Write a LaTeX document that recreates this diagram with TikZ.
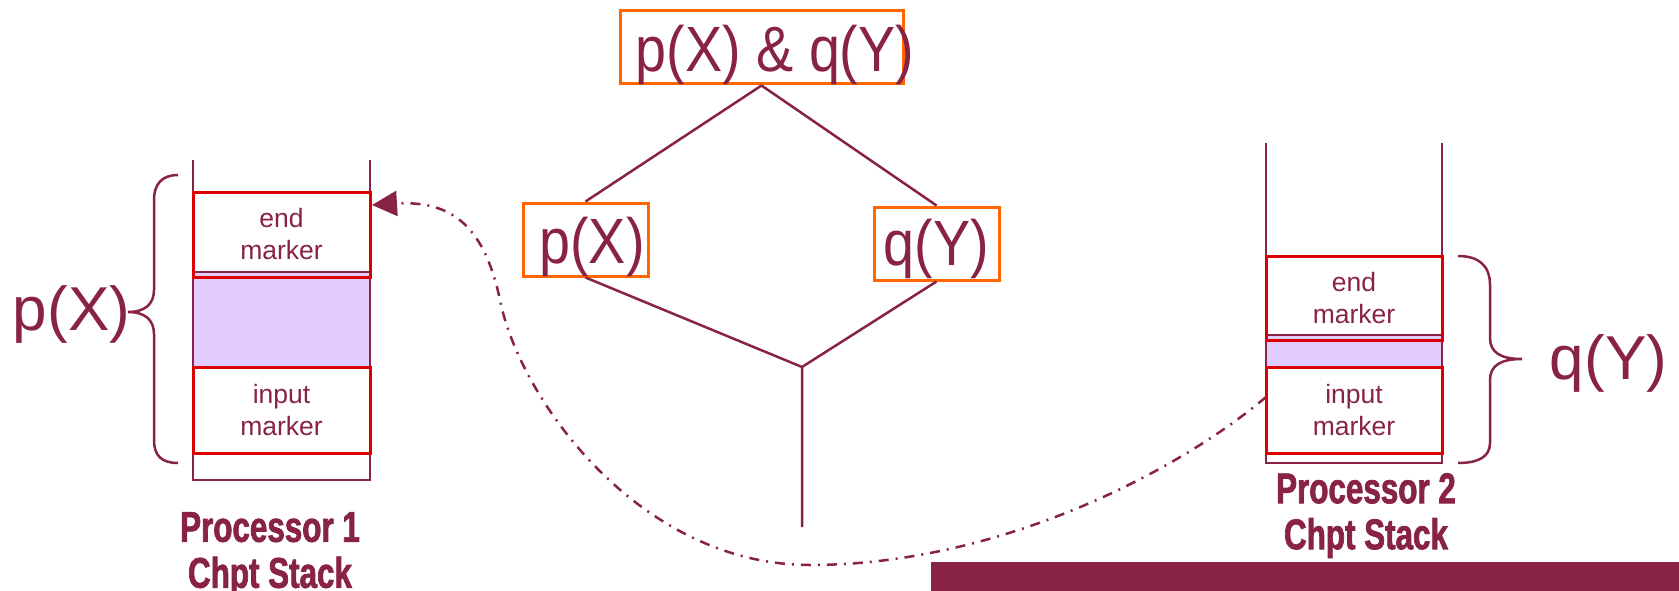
\documentclass[tikz,border=0pt]{standalone}
\usepackage{fontspec}
\setmainfont{Liberation Sans}
\newfontfamily\procfont[FakeStretch=0.73,FakeBold=1.6]{Liberation Sans}
\newfontfamily\narrowfont[FakeStretch=0.87]{Liberation Sans}
\usetikzlibrary{arrows.meta,calc}
\definecolor{maroon}{RGB}{136,34,70}
\definecolor{boxorange}{RGB}{255,102,0}
\definecolor{boxred}{RGB}{221,0,0}
\definecolor{stackfill}{RGB}{226,204,255}
\tikzset{
  wire/.style={draw=maroon, line width=2.5pt},
  obox/.style={draw=boxorange, line width=3pt, inner sep=0pt, minimum height=73pt, text=maroon, font=\narrowfont\fontsize{64}{66}\selectfont},
  rbox/.style={draw=boxred, line width=3pt, inner sep=0pt, text=maroon, align=center, font=\fontsize{26.5}{32}\selectfont},
  pfill/.style={fill=stackfill, draw=maroon, line width=2.5pt},
  brace/.style={draw=maroon, line width=2.5pt},
  big/.style={text=maroon, font=\fontsize{62}{64}\selectfont, inner sep=0pt},
  proc/.style={text=maroon, align=center, font=\procfont\bfseries\fontsize{43}{46}\selectfont, inner sep=0pt, anchor=north},
  link/.style={draw=maroon, line width=2.5pt, dash pattern=on 10pt off 7pt on 2pt off 7pt, -{Triangle[length=25pt,width=25pt]}}
}
\begin{document}
\begin{tikzpicture}[x=1pt,y=-1pt]
\useasboundingbox (0,0) rectangle (1679,591);
% bottom bar
\fill[maroon] (931,562) rectangle (1679,591);
% stack 1
\draw[pfill] (193,272) rectangle (370,367);
\draw[wire] (193,160) -- (193,480) -- (370,480) -- (370,160);
\node[rbox, minimum width=177pt, minimum height=85pt] (e1) at (281.5,234.5) {end\\marker};
\node[rbox, minimum width=177pt, minimum height=86pt] (i1) at (281.5,410) {input\\marker};
\draw[brace] (178,175) .. controls (162,175) and (154,184) .. (154,200) -- (154,290) .. controls (154,304) and (145,312) .. (128,312) .. controls (145,312) and (154,320) .. (154,334) -- (154,440) .. controls (154,456) and (162,463) .. (178,463);
\node[big] (lp) at (71.5,314) {p(X)};
\node[proc] (p1) at (270,512) {Processor 1\\Chpt Stack};
% stack 2
\draw[pfill] (1266,335) rectangle (1442,367);
\draw[wire] (1266,143) -- (1266,463) -- (1442,463) -- (1442,143);
\node[rbox, minimum width=176pt, minimum height=84pt] (e2) at (1354,298) {end\\marker};
\node[rbox, minimum width=176pt, minimum height=86pt] (i2) at (1354,410) {input\\marker};
\draw[brace] (1458,256) .. controls (1478,256) and (1490,265) .. (1490,285) -- (1490,338) .. controls (1490,352) and (1500,359) .. (1522,359) .. controls (1500,359) and (1490,366) .. (1490,380) -- (1490,443) .. controls (1490,457) and (1478,463) .. (1458,463);
\node[big] (lq) at (1608.5,363) {q(Y)};
\node[proc] (p2) at (1366,473) {Processor 2\\Chpt Stack};
% tree
\node[obox, minimum width=283pt] (top) at (761.5,47.5) {\makebox[0pt]{\hspace*{27pt}\raisebox{-23.7pt}[0pt][0pt]{p(X) \& q(Y)}}};
\node[obox, minimum width=125pt] (px) at (585.5,239.5) {\makebox[0pt]{\hspace*{13pt}\raisebox{-23.7pt}[0pt][0pt]{p(X)}}};
\node[obox, minimum width=125pt] (qy) at (936.5,243.5) {\makebox[0pt]{\raisebox{-21.7pt}[0pt][0pt]{q(Y)}}};
\coordinate (j) at (802,367);
\coordinate (jb) at (802,527);
\draw[wire] (top.south) -- (px.north) (top.south) -- (qy.north) (px.south) -- (j) (qy.south) -- (j) -- (jb);
% link
\coordinate (qs) at (1266,397);
\coordinate (tip) at (372,205);
\draw[link] (qs) .. controls (1180,470) and (1000,565) .. (810,565) .. controls (640,565) and (520,400) .. (500,300) .. controls (485,230) and (455,200) .. (tip);
\end{tikzpicture}
\end{document}
